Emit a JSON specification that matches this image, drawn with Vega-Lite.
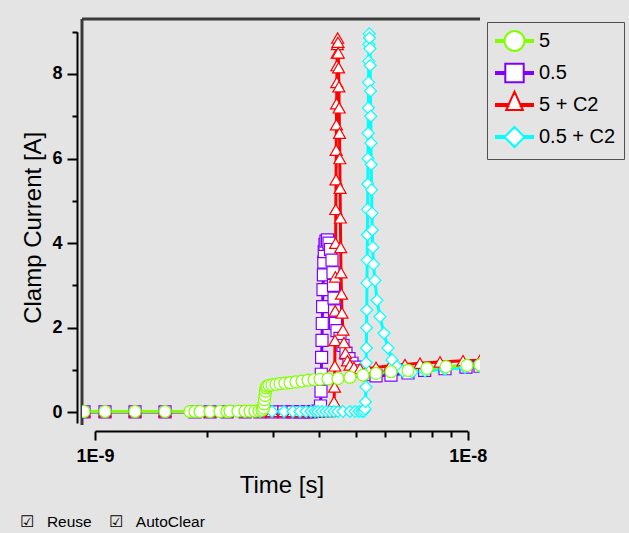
{
  "$schema": "https://vega.github.io/schema/vega-lite/v6.json",
  "width": 398,
  "height": 406,
  "autosize": {"type": "none"},
  "padding": {"left": 82, "top": 19, "right": 149, "bottom": 108},
  "background": "#e4e4e4",
  "config": {
    "font": "Liberation Sans",
    "view": {"fill": "white", "stroke": "#3a3a3a", "strokeWidth": 3, "strokeDash": [398, 804, 406, 0]},
    "axis": {
      "grid": false,
      "domainColor": "#000",
      "domainWidth": 2,
      "tickColor": "#000",
      "tickWidth": 2,
      "labelColor": "#000",
      "labelFont": "Liberation Sans",
      "labelFontSize": 18,
      "labelFontWeight": "bold",
      "labelOverlap": false,
      "labelFlush": false,
      "titleColor": "#000",
      "titleFont": "Liberation Sans",
      "titleFontSize": 24,
      "titleFontWeight": "normal"
    }
  },
  "title": {
    "text": "☑\u00a0\u00a0\u00a0Reuse\u00a0\u00a0\u00a0\u00a0☑\u00a0\u00a0\u00a0AutoClear",
    "orient": "bottom",
    "anchor": "start",
    "frame": "group",
    "dx": -62,
    "offset": 18,
    "font": "Liberation Sans",
    "fontSize": 15.5,
    "fontWeight": "normal",
    "color": "#000"
  },
  "datasets": {
    "curves": [
      {"series": "0.5", "t": 0.9343e-9, "v": 0.01},
      {"series": "0.5", "t": 1.0637e-9, "v": 0.01},
      {"series": "0.5", "t": 1.2804e-9, "v": 0.01},
      {"series": "0.5", "t": 1.5411e-9, "v": 0.01},
      {"series": "0.5", "t": 1.8548e-9, "v": 0.01},
      {"series": "0.5", "t": 2.0349e-9, "v": 0.01},
      {"series": "0.5", "t": 2.2603e-9, "v": 0.01},
      {"series": "0.5", "t": 2.5263e-9, "v": 0.01},
      {"series": "0.5", "t": 2.7715e-9, "v": 0.01},
      {"series": "0.5", "t": 2.9847e-9, "v": 0.01},
      {"series": "0.5", "t": 3.2145e-9, "v": 0.01},
      {"series": "0.5", "t": 3.3982e-9, "v": 0.01},
      {"series": "0.5", "t": 3.5485e-9, "v": 0.01},
      {"series": "0.5", "t": 3.6826e-9, "v": 0.01},
      {"series": "0.5", "t": 3.7981e-9, "v": 0.01},
      {"series": "0.5", "t": 3.8931e-9, "v": 0.02},
      {"series": "0.5", "t": 3.9658e-9, "v": 0.03},
      {"series": "0.5", "t": 4.027e-9, "v": 0.15},
      {"series": "0.5", "t": 4.040e-9, "v": 0.5},
      {"series": "0.5", "t": 4.047e-9, "v": 0.9},
      {"series": "0.5", "t": 4.055e-9, "v": 1.3},
      {"series": "0.5", "t": 4.065e-9, "v": 1.7},
      {"series": "0.5", "t": 4.072e-9, "v": 2.1},
      {"series": "0.5", "t": 4.080e-9, "v": 2.5},
      {"series": "0.5", "t": 4.090e-9, "v": 2.9},
      {"series": "0.5", "t": 4.100e-9, "v": 3.25},
      {"series": "0.5", "t": 4.110e-9, "v": 3.55},
      {"series": "0.5", "t": 4.122e-9, "v": 3.8},
      {"series": "0.5", "t": 4.140e-9, "v": 3.97},
      {"series": "0.5", "t": 4.166e-9, "v": 4.05},
      {"series": "0.5", "t": 4.205e-9, "v": 4.08},
      {"series": "0.5", "t": 4.245e-9, "v": 4.0},
      {"series": "0.5", "t": 4.284e-9, "v": 3.85},
      {"series": "0.5", "t": 4.324e-9, "v": 3.6},
      {"series": "0.5", "t": 4.351e-9, "v": 3.3},
      {"series": "0.5", "t": 4.364e-9, "v": 3.0},
      {"series": "0.5", "t": 4.378e-9, "v": 2.7},
      {"series": "0.5", "t": 4.392e-9, "v": 2.4},
      {"series": "0.5", "t": 4.419e-9, "v": 2.1},
      {"series": "0.5", "t": 4.460e-9, "v": 1.93},
      {"series": "0.5", "t": 4.543e-9, "v": 1.75},
      {"series": "0.5", "t": 4.627e-9, "v": 1.58},
      {"series": "0.5", "t": 4.714e-9, "v": 1.4},
      {"series": "0.5", "t": 4.802e-9, "v": 1.27},
      {"series": "0.5", "t": 4.893e-9, "v": 1.16},
      {"series": "0.5", "t": 5.015e-9, "v": 1.07},
      {"series": "0.5", "t": 5.173e-9, "v": 0.98},
      {"series": "0.5", "t": 5.367e-9, "v": 0.9},
      {"series": "0.5", "t": 5.675e-9, "v": 0.86},
      {"series": "0.5", "t": 6.226e-9, "v": 0.88},
      {"series": "0.5", "t": 6.916e-9, "v": 0.93},
      {"series": "0.5", "t": 7.665e-9, "v": 0.99},
      {"series": "0.5", "t": 8.692e-9, "v": 1.03},
      {"series": "0.5", "t": 9.896e-9, "v": 1.07},
      {"series": "0.5", "t": 10.79e-9, "v": 1.09},

      {"series": "5 + C2", "t": 0.9343e-9, "v": 0.02},
      {"series": "5 + C2", "t": 1.0637e-9, "v": 0.02},
      {"series": "5 + C2", "t": 1.2804e-9, "v": 0.02},
      {"series": "5 + C2", "t": 1.5411e-9, "v": 0.02},
      {"series": "5 + C2", "t": 1.8548e-9, "v": 0.02},
      {"series": "5 + C2", "t": 2.0349e-9, "v": 0.02},
      {"series": "5 + C2", "t": 2.2603e-9, "v": 0.02},
      {"series": "5 + C2", "t": 2.5263e-9, "v": 0.02},
      {"series": "5 + C2", "t": 2.7715e-9, "v": 0.02},
      {"series": "5 + C2", "t": 2.9847e-9, "v": 0.02},
      {"series": "5 + C2", "t": 3.2145e-9, "v": 0.02},
      {"series": "5 + C2", "t": 3.3982e-9, "v": 0.02},
      {"series": "5 + C2", "t": 3.5485e-9, "v": 0.02},
      {"series": "5 + C2", "t": 3.6826e-9, "v": 0.02},
      {"series": "5 + C2", "t": 3.7981e-9, "v": 0.02},
      {"series": "5 + C2", "t": 3.8931e-9, "v": 0.02},
      {"series": "5 + C2", "t": 3.9658e-9, "v": 0.02},
      {"series": "5 + C2", "t": 4.065e-9, "v": 0.02},
      {"series": "5 + C2", "t": 4.166e-9, "v": 0.02},
      {"series": "5 + C2", "t": 4.245e-9, "v": 0.02},
      {"series": "5 + C2", "t": 4.297e-9, "v": 0.03},
      {"series": "5 + C2", "t": 4.351e-9, "v": 0.06},
      {"series": "5 + C2", "t": 4.378e-9, "v": 0.25},
      {"series": "5 + C2", "t": 4.392e-9, "v": 0.6},
      {"series": "5 + C2", "t": 4.400e-9, "v": 1.1},
      {"series": "5 + C2", "t": 4.405e-9, "v": 1.7},
      {"series": "5 + C2", "t": 4.411e-9, "v": 2.4},
      {"series": "5 + C2", "t": 4.416e-9, "v": 3.2},
      {"series": "5 + C2", "t": 4.422e-9, "v": 4.0},
      {"series": "5 + C2", "t": 4.427e-9, "v": 4.8},
      {"series": "5 + C2", "t": 4.433e-9, "v": 5.5},
      {"series": "5 + C2", "t": 4.438e-9, "v": 6.2},
      {"series": "5 + C2", "t": 4.444e-9, "v": 6.8},
      {"series": "5 + C2", "t": 4.449e-9, "v": 7.3},
      {"series": "5 + C2", "t": 4.455e-9, "v": 7.8},
      {"series": "5 + C2", "t": 4.460e-9, "v": 8.2},
      {"series": "5 + C2", "t": 4.466e-9, "v": 8.5},
      {"series": "5 + C2", "t": 4.471e-9, "v": 8.7},
      {"series": "5 + C2", "t": 4.479e-9, "v": 8.85},
      {"series": "5 + C2", "t": 4.487e-9, "v": 8.75},
      {"series": "5 + C2", "t": 4.495e-9, "v": 8.5},
      {"series": "5 + C2", "t": 4.504e-9, "v": 8.15},
      {"series": "5 + C2", "t": 4.512e-9, "v": 7.7},
      {"series": "5 + C2", "t": 4.520e-9, "v": 7.2},
      {"series": "5 + C2", "t": 4.529e-9, "v": 6.6},
      {"series": "5 + C2", "t": 4.537e-9, "v": 6.0},
      {"series": "5 + C2", "t": 4.546e-9, "v": 5.3},
      {"series": "5 + C2", "t": 4.554e-9, "v": 4.6},
      {"series": "5 + C2", "t": 4.563e-9, "v": 3.9},
      {"series": "5 + C2", "t": 4.571e-9, "v": 3.3},
      {"series": "5 + C2", "t": 4.585e-9, "v": 2.8},
      {"series": "5 + C2", "t": 4.599e-9, "v": 2.35},
      {"series": "5 + C2", "t": 4.627e-9, "v": 1.95},
      {"series": "5 + C2", "t": 4.656e-9, "v": 1.65},
      {"series": "5 + C2", "t": 4.699e-9, "v": 1.4},
      {"series": "5 + C2", "t": 4.758e-9, "v": 1.22},
      {"series": "5 + C2", "t": 4.833e-9, "v": 1.12},
      {"series": "5 + C2", "t": 4.953e-9, "v": 1.06},
      {"series": "5 + C2", "t": 5.141e-9, "v": 1.03},
      {"series": "5 + C2", "t": 5.400e-9, "v": 1.03},
      {"series": "5 + C2", "t": 5.675e-9, "v": 1.06},
      {"series": "5 + C2", "t": 6.187e-9, "v": 1.1},
      {"series": "5 + C2", "t": 6.788e-9, "v": 1.13},
      {"series": "5 + C2", "t": 7.448e-9, "v": 1.16},
      {"series": "5 + C2", "t": 8.428e-9, "v": 1.19},
      {"series": "5 + C2", "t": 9.714e-9, "v": 1.22},
      {"series": "5 + C2", "t": 10.79e-9, "v": 1.23},

      {"series": "0.5 + C2", "t": 0.9343e-9, "v": 0.02},
      {"series": "0.5 + C2", "t": 1.0637e-9, "v": 0.02},
      {"series": "0.5 + C2", "t": 1.2804e-9, "v": 0.02},
      {"series": "0.5 + C2", "t": 1.5411e-9, "v": 0.02},
      {"series": "0.5 + C2", "t": 1.8548e-9, "v": 0.02},
      {"series": "0.5 + C2", "t": 2.0349e-9, "v": 0.02},
      {"series": "0.5 + C2", "t": 2.2603e-9, "v": 0.02},
      {"series": "0.5 + C2", "t": 2.5263e-9, "v": 0.02},
      {"series": "0.5 + C2", "t": 2.7715e-9, "v": 0.02},
      {"series": "0.5 + C2", "t": 2.9847e-9, "v": 0.02},
      {"series": "0.5 + C2", "t": 3.2145e-9, "v": 0.02},
      {"series": "0.5 + C2", "t": 3.3982e-9, "v": 0.02},
      {"series": "0.5 + C2", "t": 3.5485e-9, "v": 0.02},
      {"series": "0.5 + C2", "t": 3.6826e-9, "v": 0.02},
      {"series": "0.5 + C2", "t": 3.7981e-9, "v": 0.02},
      {"series": "0.5 + C2", "t": 3.8931e-9, "v": 0.02},
      {"series": "0.5 + C2", "t": 3.9658e-9, "v": 0.02},
      {"series": "0.5 + C2", "t": 4.065e-9, "v": 0.02},
      {"series": "0.5 + C2", "t": 4.166e-9, "v": 0.02},
      {"series": "0.5 + C2", "t": 4.271e-9, "v": 0.02},
      {"series": "0.5 + C2", "t": 4.378e-9, "v": 0.02},
      {"series": "0.5 + C2", "t": 4.487e-9, "v": 0.02},
      {"series": "0.5 + C2", "t": 4.627e-9, "v": 0.02},
      {"series": "0.5 + C2", "t": 4.833e-9, "v": 0.02},
      {"series": "0.5 + C2", "t": 4.984e-9, "v": 0.02},
      {"series": "0.5 + C2", "t": 5.109e-9, "v": 0.02},
      {"series": "0.5 + C2", "t": 5.205e-9, "v": 0.02},
      {"series": "0.5 + C2", "t": 5.269e-9, "v": 0.03},
      {"series": "0.5 + C2", "t": 5.302e-9, "v": 0.08},
      {"series": "0.5 + C2", "t": 5.318e-9, "v": 0.25},
      {"series": "0.5 + C2", "t": 5.334e-9, "v": 0.6},
      {"series": "0.5 + C2", "t": 5.341e-9, "v": 1.17},
      {"series": "0.5 + C2", "t": 5.348e-9, "v": 1.52},
      {"series": "0.5 + C2", "t": 5.354e-9, "v": 2.0},
      {"series": "0.5 + C2", "t": 5.361e-9, "v": 2.42},
      {"series": "0.5 + C2", "t": 5.367e-9, "v": 3.06},
      {"series": "0.5 + C2", "t": 5.374e-9, "v": 3.6},
      {"series": "0.5 + C2", "t": 5.380e-9, "v": 4.2},
      {"series": "0.5 + C2", "t": 5.387e-9, "v": 4.8},
      {"series": "0.5 + C2", "t": 5.394e-9, "v": 5.4},
      {"series": "0.5 + C2", "t": 5.400e-9, "v": 6.0},
      {"series": "0.5 + C2", "t": 5.407e-9, "v": 6.6},
      {"series": "0.5 + C2", "t": 5.414e-9, "v": 7.2},
      {"series": "0.5 + C2", "t": 5.420e-9, "v": 7.8},
      {"series": "0.5 + C2", "t": 5.427e-9, "v": 8.3},
      {"series": "0.5 + C2", "t": 5.434e-9, "v": 8.7},
      {"series": "0.5 + C2", "t": 5.444e-9, "v": 8.95},
      {"series": "0.5 + C2", "t": 5.454e-9, "v": 8.85},
      {"series": "0.5 + C2", "t": 5.464e-9, "v": 8.6},
      {"series": "0.5 + C2", "t": 5.474e-9, "v": 8.2},
      {"series": "0.5 + C2", "t": 5.484e-9, "v": 7.6},
      {"series": "0.5 + C2", "t": 5.494e-9, "v": 7.0},
      {"series": "0.5 + C2", "t": 5.501e-9, "v": 6.37},
      {"series": "0.5 + C2", "t": 5.511e-9, "v": 5.86},
      {"series": "0.5 + C2", "t": 5.521e-9, "v": 5.26},
      {"series": "0.5 + C2", "t": 5.535e-9, "v": 4.71},
      {"series": "0.5 + C2", "t": 5.548e-9, "v": 4.31},
      {"series": "0.5 + C2", "t": 5.562e-9, "v": 3.9},
      {"series": "0.5 + C2", "t": 5.586e-9, "v": 3.5},
      {"series": "0.5 + C2", "t": 5.638e-9, "v": 3.12},
      {"series": "0.5 + C2", "t": 5.710e-9, "v": 2.65},
      {"series": "0.5 + C2", "t": 5.816e-9, "v": 2.26},
      {"series": "0.5 + C2", "t": 5.962e-9, "v": 1.87},
      {"series": "0.5 + C2", "t": 6.111e-9, "v": 1.52},
      {"series": "0.5 + C2", "t": 6.264e-9, "v": 1.24},
      {"series": "0.5 + C2", "t": 6.460e-9, "v": 1.08},
      {"series": "0.5 + C2", "t": 6.705e-9, "v": 0.98},
      {"series": "0.5 + C2", "t": 7.089e-9, "v": 0.95},
      {"series": "0.5 + C2", "t": 7.681e-9, "v": 0.98},
      {"series": "0.5 + C2", "t": 8.692e-9, "v": 1.02},
      {"series": "0.5 + C2", "t": 9.835e-9, "v": 1.06},
      {"series": "0.5 + C2", "t": 10.79e-9, "v": 1.08},

      {"series": "5", "t": 0.9343e-9, "v": 0.02},
      {"series": "5", "t": 1.0637e-9, "v": 0.02},
      {"series": "5", "t": 1.2804e-9, "v": 0.02},
      {"series": "5", "t": 1.5411e-9, "v": 0.02},
      {"series": "5", "t": 1.7984e-9, "v": 0.02},
      {"series": "5", "t": 1.8548e-9, "v": 0.02},
      {"series": "5", "t": 1.9130e-9, "v": 0.02},
      {"series": "5", "t": 2.0349e-9, "v": 0.02},
      {"series": "5", "t": 2.1646e-9, "v": 0.02},
      {"series": "5", "t": 2.2603e-9, "v": 0.02},
      {"series": "5", "t": 2.3026e-9, "v": 0.03},
      {"series": "5", "t": 2.4192e-9, "v": 0.03},
      {"series": "5", "t": 2.5263e-9, "v": 0.03},
      {"series": "5", "t": 2.6055e-9, "v": 0.03},
      {"series": "5", "t": 2.6872e-9, "v": 0.03},
      {"series": "5", "t": 2.7544e-9, "v": 0.04},
      {"series": "5", "t": 2.8060e-9, "v": 0.05},
      {"series": "5", "t": 2.8321e-9, "v": 0.1},
      {"series": "5", "t": 2.8409e-9, "v": 0.2},
      {"series": "5", "t": 2.8496e-9, "v": 0.3},
      {"series": "5", "t": 2.8584e-9, "v": 0.4},
      {"series": "5", "t": 2.8673e-9, "v": 0.5},
      {"series": "5", "t": 2.8761e-9, "v": 0.58},
      {"series": "5", "t": 2.894e-9, "v": 0.62},
      {"series": "5", "t": 2.9299e-9, "v": 0.64},
      {"series": "5", "t": 2.9847e-9, "v": 0.65},
      {"series": "5", "t": 3.0595e-9, "v": 0.66},
      {"series": "5", "t": 3.136e-9, "v": 0.68},
      {"series": "5", "t": 3.2344e-9, "v": 0.69},
      {"series": "5", "t": 3.3358e-9, "v": 0.70},
      {"series": "5", "t": 3.4618e-9, "v": 0.72},
      {"series": "5", "t": 3.5926e-9, "v": 0.74},
      {"series": "5", "t": 3.7283e-9, "v": 0.76},
      {"series": "5", "t": 3.8691e-9, "v": 0.77},
      {"series": "5", "t": 4.0151e-9, "v": 0.78},
      {"series": "5", "t": 4.2187e-9, "v": 0.79},
      {"series": "5", "t": 4.4875e-9, "v": 0.80},
      {"series": "5", "t": 4.8328e-9, "v": 0.83},
      {"series": "5", "t": 5.237e-9, "v": 0.88},
      {"series": "5", "t": 5.675e-9, "v": 0.92},
      {"series": "5", "t": 6.226e-9, "v": 0.96},
      {"series": "5", "t": 6.916e-9, "v": 0.99},
      {"series": "5", "t": 7.777e-9, "v": 1.04},
      {"series": "5", "t": 8.746e-9, "v": 1.08},
      {"series": "5", "t": 9.957e-9, "v": 1.11},
      {"series": "5", "t": 10.79e-9, "v": 1.12}
    ]
  },
  "layer": [
    {
      "data": {"name": "curves"},
      "mark": {"type": "line", "strokeWidth": 3, "clip": true},
      "encoding": {
        "x": {
          "field": "t",
          "type": "quantitative",
          "scale": {"type": "log", "domain": [1e-9, 1e-8], "range": [13, 385.7], "nice": false},
          "axis": {
            "title": "Time [s]",
            "offset": 6,
            "values": [1e-9, 2e-9, 3e-9, 4e-9, 5e-9, 6e-9, 7e-9, 8e-9, 9e-9, 1e-8],
            "labelExpr": "datum.value < 1.5e-9 ? '1E-9' : (datum.value > 9.5e-9 ? '1E-8' : '')",
            "tickSize": {"condition": {"test": "datum.value < 1.5e-9 || datum.value > 9.5e-9", "value": 9}, "value": 6},
            "labelPadding": 7,
            "titlePadding": 8
          }
        },
        "y": {
          "field": "v",
          "type": "quantitative",
          "scale": {"domain": [-0.25, 9], "range": [403.9, 12.7], "nice": false, "zero": false},
          "axis": {
            "title": "Clamp Current [A]",
            "offset": 5,
            "values": [0, 1, 2, 3, 4, 5, 6, 7, 8, 9],
            "labelExpr": "datum.value % 2 == 0 ? datum.label : ''",
            "tickSize": {"condition": {"test": "datum.value % 2 == 0", "value": 10}, "value": 5},
            "labelPadding": 5,
            "titlePadding": 6
          }
        },
        "color": {
          "field": "series",
          "type": "nominal",
          "scale": {"domain": ["5", "0.5", "5 + C2", "0.5 + C2"], "range": ["#80ff00", "#8000ff", "#ff0000", "#00ffff"]},
          "legend": null
        },
        "order": {"value": null}
      }
    },
    {
      "data": {"name": "curves"},
      "mark": {"type": "point", "filled": false, "fill": "white", "fillOpacity": 1, "opacity": 1, "size": 144, "strokeWidth": 1.2, "clip": true},
      "encoding": {
        "x": {"field": "t", "type": "quantitative"},
        "y": {"field": "v", "type": "quantitative"},
        "color": {
          "field": "series",
          "type": "nominal",
          "scale": {"domain": ["5", "0.5", "5 + C2", "0.5 + C2"], "range": ["#80ff00", "#8000ff", "#ff0000", "#00ffff"]},
          "legend": null
        },
        "shape": {
          "field": "series",
          "type": "nominal",
          "scale": {"domain": ["5", "0.5", "5 + C2", "0.5 + C2"], "range": ["circle", "square", "triangle-up", "diamond"]},
          "legend": null
        }
      }
    },
    {
      "data": {"name": "curves"},
      "transform": [{"filter": "datum.v > 100"}],
      "mark": {"type": "point", "filled": false, "fill": "white", "opacity": 1, "size": 400, "strokeWidth": 2},
      "encoding": {
        "color": {
          "field": "series",
          "type": "nominal",
          "scale": {"domain": ["5", "0.5", "5 + C2", "0.5 + C2"], "range": ["#80ff00", "#8000ff", "#ff0000", "#00ffff"]},
          "legend": {
            "title": null, "orient": "none", "legendX": 405, "legendY": 3,
            "padding": 8, "symbolOffset": 8.5, "rowPadding": 0, "labelOffset": 13.5, "gridAlign": "all",
            "symbolSize": 400, "symbolStrokeWidth": 2, "symbolFillColor": "white",
            "labelFont": "Liberation Sans", "labelFontSize": 20, "labelColor": "#000",
            "fillColor": "#e4e4e4", "strokeColor": "#505050"
          }
        },
        "shape": {
          "field": "series",
          "type": "nominal",
          "scale": {
            "domain": ["5", "0.5", "5 + C2", "0.5 + C2"],
            "range": [
              "M-1.85,-0.1H-1V0.1H-1.85Z M1,-0.1H1.85V0.1H1Z M-1,0A1,1 0 1,1 1,0A1,1 0 1,1 -1,0Z",
              "M-1.85,-0.1H-0.92V0.1H-1.85Z M0.92,-0.1H1.85V0.1H0.92Z M-0.92,-0.92H0.92V0.92H-0.92Z",
              "M-1.85,-0.1H-0.6V0.1H-1.85Z M0.6,-0.1H1.85V0.1H0.6Z M0,-1.33L0.83,0.5H-0.83Z",
              "M-1.85,-0.1H-1V0.1H-1.85Z M1,-0.1H1.85V0.1H1Z M0,-1L1,0L0,1L-1,0Z"
            ]
          },
          "legend": {
            "title": null, "orient": "none", "legendX": 405, "legendY": 3,
            "padding": 8, "symbolOffset": 8.5, "rowPadding": 0, "labelOffset": 13.5, "gridAlign": "all",
            "symbolSize": 400, "symbolStrokeWidth": 2, "symbolFillColor": "white",
            "labelFont": "Liberation Sans", "labelFontSize": 20, "labelColor": "#000",
            "fillColor": "#e4e4e4", "strokeColor": "#505050"
          }
        }
      }
    }
  ],
  "resolve": {
    "scale": {"color": "independent", "shape": "independent"},
    "legend": {"color": "independent", "shape": "independent"}
  }
}
